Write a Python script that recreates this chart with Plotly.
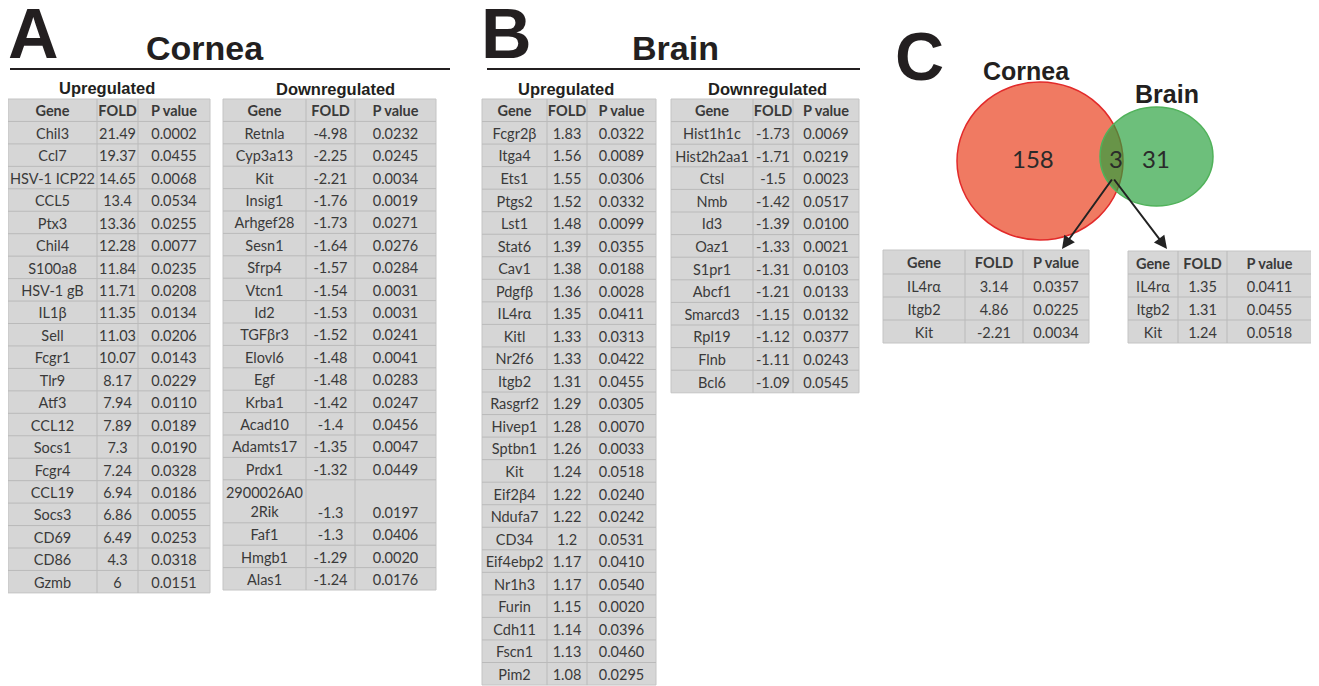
import plotly.graph_objects as go

# ---------------- data ----------------
cornea_up_genes = ["Chil3", "Ccl7", "HSV-1 ICP22", "CCL5", "Ptx3", "Chil4", "S100a8", "HSV-1 gB", "IL1β", "Sell",
                   "Fcgr1", "Tlr9", "Atf3", "CCL12", "Socs1", "Fcgr4", "CCL19", "Socs3", "CD69", "CD86", "Gzmb"]
cornea_up_fold = [21.49, 19.37, 14.65, 13.4, 13.36, 12.28, 11.84, 11.71, 11.35, 11.03,
                  10.07, 8.17, 7.94, 7.89, 7.3, 7.24, 6.94, 6.86, 6.49, 4.3, 6]
cornea_up_p = [0.0002, 0.0455, 0.0068, 0.0534, 0.0255, 0.0077, 0.0235, 0.0208, 0.0134, 0.0206,
               0.0143, 0.0229, 0.0110, 0.0189, 0.0190, 0.0328, 0.0186, 0.0055, 0.0253, 0.0318, 0.0151]

cornea_down_genes = ["Retnla", "Cyp3a13", "Kit", "Insig1", "Arhgef28", "Sesn1", "Sfrp4", "Vtcn1", "Id2", "TGFβr3",
                     "Elovl6", "Egf", "Krba1", "Acad10", "Adamts17", "Prdx1", "2900026A02Rik", "Faf1", "Hmgb1", "Alas1"]
cornea_down_fold = [-4.98, -2.25, -2.21, -1.76, -1.73, -1.64, -1.57, -1.54, -1.53, -1.52,
                    -1.48, -1.48, -1.42, -1.4, -1.35, -1.32, -1.3, -1.3, -1.29, -1.24]
cornea_down_p = [0.0232, 0.0245, 0.0034, 0.0019, 0.0271, 0.0276, 0.0284, 0.0031, 0.0031, 0.0241,
                 0.0041, 0.0283, 0.0247, 0.0456, 0.0047, 0.0449, 0.0197, 0.0406, 0.0020, 0.0176]

brain_up_genes = ["Fcgr2β", "Itga4", "Ets1", "Ptgs2", "Lst1", "Stat6", "Cav1", "Pdgfβ", "IL4rα", "Kitl",
                  "Nr2f6", "Itgb2", "Rasgrf2", "Hivep1", "Sptbn1", "Kit", "Eif2β4", "Ndufa7", "CD34", "Eif4ebp2",
                  "Nr1h3", "Furin", "Cdh11", "Fscn1", "Pim2"]
brain_up_fold = [1.83, 1.56, 1.55, 1.52, 1.48, 1.39, 1.38, 1.36, 1.35, 1.33,
                 1.33, 1.31, 1.29, 1.28, 1.26, 1.24, 1.22, 1.22, 1.2, 1.17,
                 1.17, 1.15, 1.14, 1.13, 1.08]
brain_up_p = [0.0322, 0.0089, 0.0306, 0.0332, 0.0099, 0.0355, 0.0188, 0.0028, 0.0411, 0.0313,
              0.0422, 0.0455, 0.0305, 0.0070, 0.0033, 0.0518, 0.0240, 0.0242, 0.0531, 0.0410,
              0.0540, 0.0020, 0.0396, 0.0460, 0.0295]

brain_down_genes = ["Hist1h1c", "Hist2h2aa1", "Ctsl", "Nmb", "Id3", "Oaz1", "S1pr1", "Abcf1", "Smarcd3",
                    "Rpl19", "Flnb", "Bcl6"]
brain_down_fold = [-1.73, -1.71, -1.5, -1.42, -1.39, -1.33, -1.31, -1.21, -1.15, -1.12, -1.11, -1.09]
brain_down_p = [0.0069, 0.0219, 0.0023, 0.0517, 0.0100, 0.0021, 0.0103, 0.0133, 0.0132, 0.0377, 0.0243, 0.0545]

shared_genes = ["IL4rα", "Itgb2", "Kit"]
shared_cornea_fold = [3.14, 4.86, -2.21]
shared_cornea_p = [0.0357, 0.0225, 0.0034]
shared_brain_fold = [1.35, 1.31, 1.24]
shared_brain_p = [0.0411, 0.0455, 0.0518]

venn_labels = ["Cornea", "Brain"]
venn_counts = [158, 3, 31]  # cornea only, shared, brain only

col_headers = ["Gene", "FOLD", "P value"]

# ---------------- page geometry (pixel axes) ----------------
W, H = 1319, 686
OFF = 8  # page body margin
FW, FH = W - OFF, H - OFF

CELL_FILL = "#d6d6d6"
CELL_LINE = "#bababa"
TEXT_COL = "#3a3a3a"
CELL_FONT = "Lato"
CELL_SIZE = 14.5
TEXT_DY = 2.5  # visual centring of text inside a cell
TITLE_FONT = "Liberation Sans"

fig = go.Figure()
shapes = []
annotations = []


def draw_table(genes, folds, pvals, edges, top, rh, head_h=None, tall_h=None, maxlen=12):
    head_h = head_h or rh
    tall_h = tall_h or rh * 1.92
    centers = [(edges[i] + edges[i + 1]) / 2 for i in range(3)]
    y = top
    hx = list(centers)
    hy = [y + head_h / 2 + TEXT_DY] * 3
    ht = [f"<b>{h}</b>" for h in col_headers]
    y += head_h
    bounds = [y]
    xs, ys, ts = [], [], []
    for g, f, p in zip(genes, folds, pvals):
        fs, ps = f"{f:g}", f"{p:.4f}"
        if len(g) > maxlen:
            h = tall_h
            mid = y + h / 2 + TEXT_DY
            xs += centers
            ys += [mid, mid + 10.5, mid + 10.5]
            ts += [g[:9] + "<br>" + g[9:], fs, ps]
        else:
            h = rh
            mid = y + h / 2 + TEXT_DY
            xs += centers
            ys += [mid] * 3
            ts += [g, fs, ps]
        y += h
        bounds.append(y)
    bottom = y
    shapes.append(dict(type="rect", xref="x", yref="y", x0=edges[0], x1=edges[-1], y0=top, y1=bottom,
                       fillcolor=CELL_FILL, line=dict(color="#c4c4c4", width=1), layer="below"))
    for b in bounds[:-1]:
        shapes.append(dict(type="line", xref="x", yref="y", x0=edges[0], x1=edges[-1], y0=b, y1=b,
                           line=dict(color=CELL_LINE, width=1), layer="below"))
    for e in edges[1:-1]:
        shapes.append(dict(type="line", xref="x", yref="y", x0=e, x1=e, y0=top, y1=bottom,
                           line=dict(color=CELL_LINE, width=1), layer="below"))
    font = dict(family=CELL_FONT, size=CELL_SIZE, color=TEXT_COL)
    fig.add_trace(go.Scatter(x=hx, y=hy, text=ht, mode="text", textposition="middle center",
                             textfont=font, hoverinfo="skip", cliponaxis=False))
    fig.add_trace(go.Scatter(x=xs, y=ys, text=ts, mode="text", textposition="middle center",
                             textfont=font, hoverinfo="skip", cliponaxis=False))


draw_table(cornea_up_genes, cornea_up_fold, cornea_up_p, [8, 97, 138, 210], 99, 22.45)
draw_table(cornea_down_genes, cornea_down_fold, cornea_down_p, [223, 306, 355, 436], 99, 22.4, tall_h=43)
draw_table(brain_up_genes, brain_up_fold, brain_up_p, [482, 547, 587, 656], 99, 22.54)
draw_table(brain_down_genes, brain_down_fold, brain_down_p, [671, 753, 793, 859], 99, 22.6)
draw_table(shared_genes, shared_cornea_fold, shared_cornea_p, [883, 965, 1023, 1089], 250, 23, head_h=24)
draw_table(shared_genes, shared_brain_fold, shared_brain_p, [1128, 1178, 1227, 1312], 251, 23, head_h=23)


def add_text(txt, x, y, size, xanchor="center", bold=True, family=TITLE_FONT, color="#231f20"):
    annotations.append(dict(text=f"<b>{txt}</b>" if bold else txt,
                            x=(x - OFF) / FW, y=1 - (y - OFF) / FH, xref="paper", yref="paper",
                            xanchor=xanchor, yanchor="middle", showarrow=False,
                            font=dict(family=family, size=size, color=color)))


# panel letters and titles
add_text("A", 6, 34, 70, xanchor="left")
add_text("Cornea", 205, 48, 34)
add_text("B", 479, 34, 70, xanchor="left")
add_text("Brain", 675, 48, 34)
add_text("C", 893, 56, 68, xanchor="left")
add_text("Upregulated", 107, 88, 16.5)
add_text("Downregulated", 335, 89, 16.5)
add_text("Upregulated", 566, 89, 16.5)
add_text("Downregulated", 767, 89, 16.5)

# venn labels and counts
add_text(venn_labels[0], 1026, 71, 25)
add_text(venn_labels[1], 1167, 94, 25)
add_text(str(venn_counts[0]), 1033, 159, 24, bold=False, family=CELL_FONT, color="#2a2a2a")
add_text(str(venn_counts[1]), 1116, 159, 24, bold=False, family=CELL_FONT, color="#2a2a2a")
add_text(str(venn_counts[2]), 1156, 159, 24, bold=False, family=CELL_FONT, color="#2a2a2a")

# arrows from the overlap to the two tables
for hx_, hy_ in [(1062, 249), (1167, 249)]:
    annotations.append(dict(x=hx_, y=hy_, xref="x", yref="y", text="",
                            showarrow=True, ax=1113, ay=178, axref="x", ayref="y",
                            arrowhead=2, arrowsize=1.3, arrowwidth=2, arrowcolor="#222222"))

shapes += [
    dict(type="line", xref="x", yref="y", x0=10, x1=450, y0=69, y1=69,
         line=dict(color="#231f20", width=2)),
    dict(type="line", xref="x", yref="y", x0=487, x1=860, y0=69, y1=69,
         line=dict(color="#231f20", width=2)),
    dict(type="circle", xref="x", yref="y", x0=957, x1=1123, y0=82, y1=240,
         fillcolor="rgb(240,122,98)", line=dict(color="rgb(226,42,42)", width=1.5), layer="below"),
    dict(type="circle", xref="x", yref="y", x0=1100, x1=1213, y0=107, y1=206,
         fillcolor="rgba(40,160,60,0.68)", line=dict(color="rgb(80,178,90)", width=1.5), layer="below"),
]

fig.update_layout(
    width=FW, height=FH, autosize=False,
    margin=dict(l=0, r=0, t=0, b=0, pad=0),
    paper_bgcolor="white", plot_bgcolor="white",
    xaxis=dict(range=[OFF, W], visible=False, fixedrange=True, domain=[0, 1]),
    yaxis=dict(range=[H, OFF], visible=False, fixedrange=True, domain=[0, 1]),
    annotations=annotations, shapes=shapes, showlegend=False,
)

fig.write_html("out.html")
